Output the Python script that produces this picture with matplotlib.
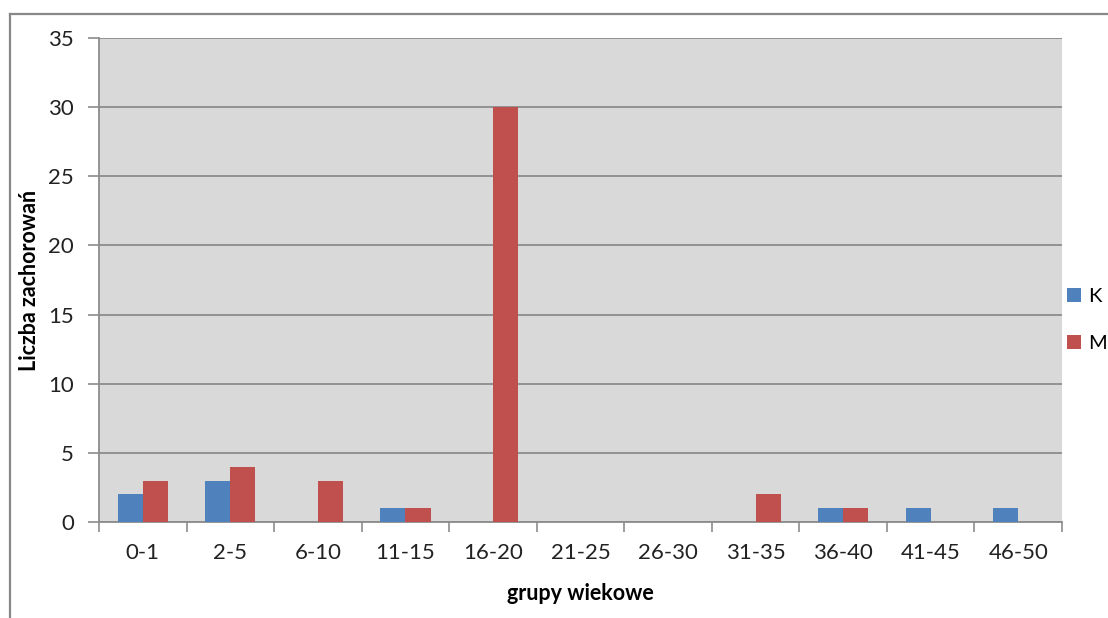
import matplotlib.pyplot as plt
import numpy as np
from matplotlib.lines import Line2D

plt.rcParams['font.family'] = ['Lato', 'DejaVu Sans']

# age groups and case counts
groups = ['0-1', '2-5', '6-10', '11-15', '16-20', '21-25', '26-30',
          '31-35', '36-40', '41-45', '46-50']
K = [2, 3, 0, 1, 0, 0, 0, 0, 1, 1, 1]
M = [3, 4, 3, 1, 30, 0, 0, 2, 1, 0, 0]

fig = plt.figure(figsize=(11.08, 6.18), dpi=100)
W, H = 1108, 618
ax = fig.add_axes([99 / W, 1 - 522 / H, (1062 - 99) / W, (522 - 38) / H])

x = np.arange(len(groups))
w = 0.287
ax.bar(x - w / 2, K, w, color='#4F81BD', label='K', zorder=3)
ax.bar(x + w / 2, M, w, color='#C0504D', label='M', zorder=3)

ax.set_facecolor('#D9D9D9')
ax.set_xlim(-0.5, len(groups) - 0.5)
ax.set_ylim(0, 35)
ax.set_yticks(range(0, 36, 5))
ax.yaxis.grid(True, color='#8C8C8C', lw=1.3, zorder=1)
ax.set_axisbelow(True)

ax.set_xticks(np.arange(len(groups) + 1) - 0.5)
ax.set_xticklabels([])
ax.set_xticks(x, minor=True)
ax.set_xticklabels(groups, minor=True, fontsize=16, color='#222222')
ax.tick_params(axis='x', which='major', length=7, color='#8C8C8C', width=1.2)
ax.tick_params(axis='x', which='minor', length=0, pad=15)
ax.tick_params(axis='y', length=8, color='#8C8C8C', width=1.2,
               labelsize=16, labelcolor='#222222', pad=10)

for s in ['top', 'right']:
    ax.spines[s].set_visible(False)
for s in ['left', 'bottom']:
    ax.spines[s].set_color('#8C8C8C')
    ax.spines[s].set_linewidth(1.3)

ax.set_xlabel('grupy wiekowe', fontsize=15.5, fontweight='bold')
ax.set_ylabel('Liczba zachorowań', fontsize=15.5, fontweight='bold')
ax.xaxis.set_label_coords(0.5, -0.125)
ax.yaxis.set_label_coords(-0.061, 0.5)

leg = fig.legend(loc='center left', bbox_to_anchor=(1067 / W, 1 - 320 / H),
                 frameon=False, fontsize=14.5, handlelength=0.7,
                 handleheight=0.7, labelspacing=1.45, handletextpad=0.35,
                 borderpad=0, borderaxespad=0)

# chart border
fig.add_artist(Line2D([10 / W, 10 / W], [0, 1 - 14 / H], color='#888888', lw=1.6))
fig.add_artist(Line2D([10 / W, 1], [1 - 14 / H, 1 - 14 / H], color='#888888', lw=1.6))

fig.savefig('out.png', dpi=100)
